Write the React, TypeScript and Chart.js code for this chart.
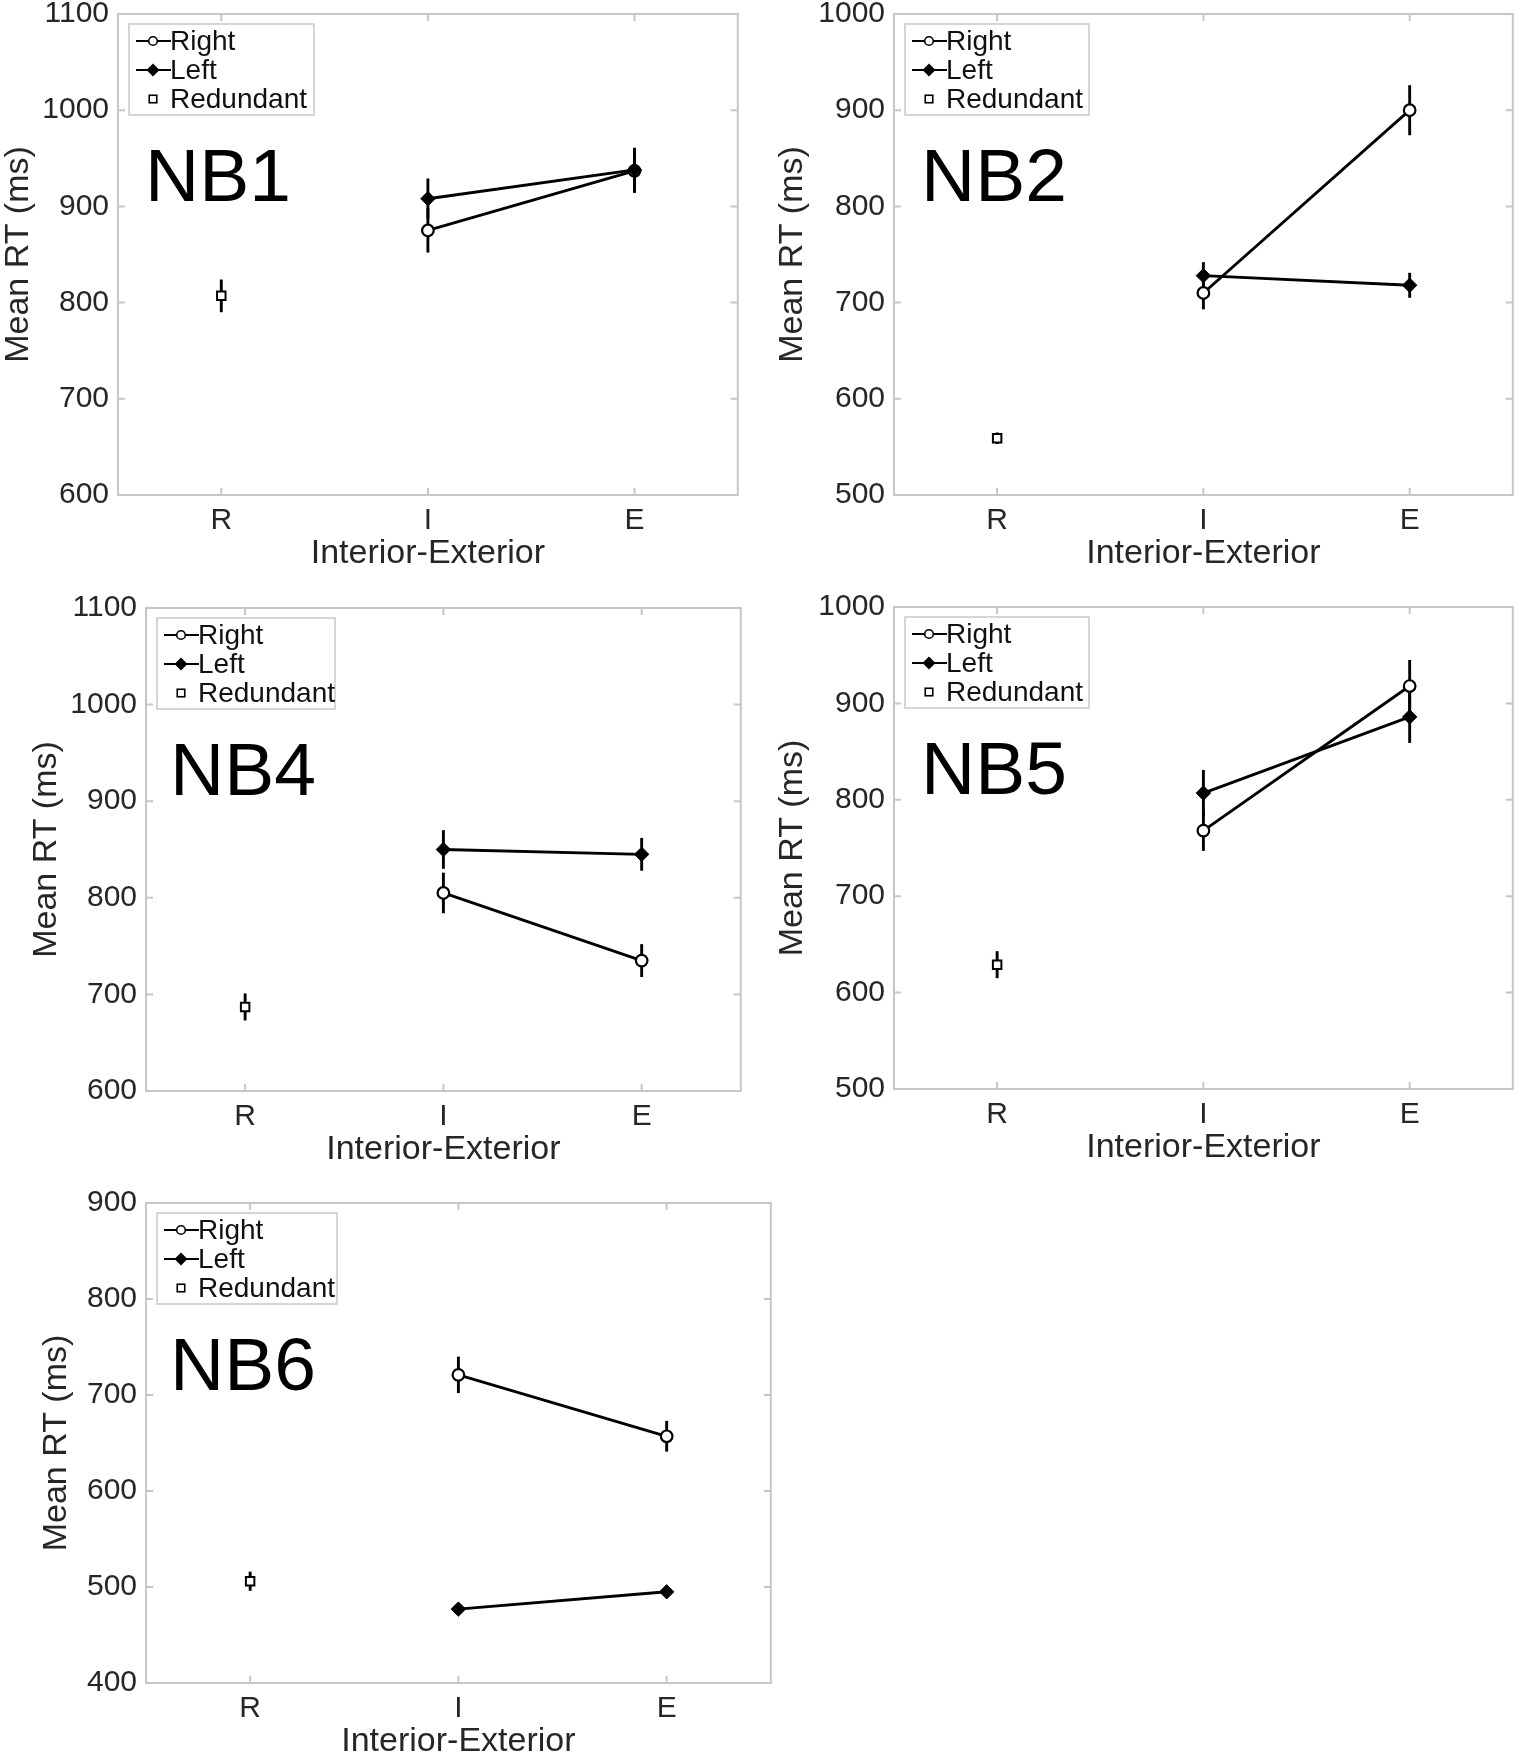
import React, { useEffect, useRef } from 'react';
import { Chart, registerables } from 'chart.js';

Chart.register(...registerables);

// ---------------- data ----------------
const categories = ['R', 'I', 'E'];
const panelNames = ['NB1', 'NB2', 'NB4', 'NB5', 'NB6'];
const seriesNames = ['Right', 'Left', 'Redundant'];
const xAxisTitle = 'Interior-Exterior';
const yAxisTitle = 'Mean RT (ms)';

const yMins = [600, 500, 600, 500, 400];
const yMaxs = [1100, 1000, 1100, 1000, 900];
const yStep = 100;

// Right (open circle) means at I and E, per panel
const rightMeans = [
  [null, 875, 937],
  [null, 710, 900],
  [null, 805, 735],
  [null, 768, 918],
  [null, 721, 657],
];
const rightErrors = [
  [0, 23, 23],
  [0, 17, 26],
  [0, 21, 17],
  [0, 21, 27],
  [0, 19, 16],
];
// Left (filled diamond)
const leftMeans = [
  [null, 908, 938],
  [null, 728, 718],
  [null, 850, 845],
  [null, 807, 886],
  [null, 477, 495],
];
const leftErrors = [
  [0, 21, 23],
  [0, 14, 13],
  [0, 20, 17],
  [0, 24, 27],
  [0, 4, 5],
];
// Redundant (open square) at R
const redundantMeans = [807, 559, 687, 629, 506];
const redundantErrors = [17, 6, 14, 14, 10];

// ---------------- layout ----------------
const panelBoxes = [
  { l: 118, t: 14, r: 742, b: 495 },
  { l: 894, t: 14, r: 1517, b: 495 },
  { l: 146, t: 608, r: 745, b: 1091 },
  { l: 894, t: 607, r: 1517, b: 1089 },
  { l: 146, t: 1203, r: 775, b: 1683 },
];
const yTitleOffsets = [99, 101, 99, 101, 89];
const nbLabelDx = [27, 27, 24, 27, 24];
const legendWidths = [185, 184, 178, 184, 180];

const PAD_L = 117;
const PAD_T = 34;
const PAD_R = 4;
const PAD_B = 80;

const FONT_FAMILY = "'Liberation Sans', Arial, Helvetica, sans-serif";
const TEXT_COLOR = '#262626';
const FRAME_COLOR = '#c6c6c6';
const LINE_W = 2.9;

Chart.defaults.font.family = FONT_FAMILY;

function drawCircle(ctx: CanvasRenderingContext2D, x: number, y: number, r: number, lw: number) {
  ctx.beginPath();
  ctx.arc(x, y, r, 0, Math.PI * 2);
  ctx.fillStyle = '#fff';
  ctx.fill();
  ctx.lineWidth = lw;
  ctx.strokeStyle = '#000';
  ctx.stroke();
}
function drawDiamond(ctx: CanvasRenderingContext2D, x: number, y: number, r: number) {
  ctx.beginPath();
  ctx.moveTo(x, y - r);
  ctx.lineTo(x + r, y);
  ctx.lineTo(x, y + r);
  ctx.lineTo(x - r, y);
  ctx.closePath();
  ctx.fillStyle = '#000';
  ctx.fill();
}
function drawSquare(ctx: CanvasRenderingContext2D, x: number, y: number, s: number, lw: number) {
  ctx.fillStyle = '#fff';
  ctx.fillRect(x - s / 2, y - s / 2, s, s);
  ctx.lineWidth = lw;
  ctx.strokeStyle = '#000';
  ctx.strokeRect(x - s / 2, y - s / 2, s, s);
}

function makePanelPlugin(idx: number) {
  return {
    id: 'panelDecor' + idx,
    beforeDatasetsDraw(chart: any) {
      const ctx: CanvasRenderingContext2D = chart.ctx;
      const xs = chart.scales.x;
      const ys = chart.scales.y;
      const errs = [rightErrors[idx], leftErrors[idx], [redundantErrors[idx], 0, 0]];
      ctx.save();
      ctx.strokeStyle = '#000';
      ctx.lineWidth = LINE_W;
      ctx.lineCap = 'butt';
      chart.data.datasets.forEach((ds: any, di: number) => {
        ds.data.forEach((v: number | null, i: number) => {
          if (v === null || v === undefined) return;
          const e = errs[di][i];
          if (!e) return;
          const x = xs.getPixelForValue(i);
          ctx.beginPath();
          ctx.moveTo(x, ys.getPixelForValue(v - e));
          ctx.lineTo(x, ys.getPixelForValue(v + e));
          ctx.stroke();
        });
      });
      ctx.restore();
    },
    afterDraw(chart: any) {
      const ctx: CanvasRenderingContext2D = chart.ctx;
      const ca = chart.chartArea;
      const xs = chart.scales.x;
      const ys = chart.scales.y;
      ctx.save();
      // frame
      ctx.strokeStyle = FRAME_COLOR;
      ctx.lineWidth = 2;
      ctx.strokeRect(ca.left, ca.top, ca.right - ca.left, ca.bottom - ca.top);
      // inside ticks
      const tl = 7;
      ctx.beginPath();
      ys.ticks.forEach((t: any) => {
        const y = ys.getPixelForValue(t.value);
        ctx.moveTo(ca.left, y);
        ctx.lineTo(ca.left + tl, y);
        ctx.moveTo(ca.right, y);
        ctx.lineTo(ca.right - tl, y);
      });
      categories.forEach((_c, i) => {
        const x = xs.getPixelForValue(i);
        ctx.moveTo(x, ca.bottom);
        ctx.lineTo(x, ca.bottom - tl);
        ctx.moveTo(x, ca.top);
        ctx.lineTo(x, ca.top + tl);
      });
      ctx.stroke();

      // legend
      const bx = ca.left + 11;
      const by = ca.top + 10;
      const bw = legendWidths[idx];
      const bh = 91;
      ctx.fillStyle = '#fff';
      ctx.fillRect(bx, by, bw, bh);
      ctx.strokeStyle = '#c8c8c8';
      ctx.lineWidth = 1.5;
      ctx.strokeRect(bx, by, bw, bh);
      const rows = [by + 17, by + 46, by + 75];
      const mx = bx + 24;
      ctx.strokeStyle = '#000';
      ctx.lineWidth = 2.2;
      for (let r = 0; r < 2; r++) {
        ctx.beginPath();
        ctx.moveTo(bx + 7, rows[r]);
        ctx.lineTo(bx + 42, rows[r]);
        ctx.stroke();
      }
      drawCircle(ctx, mx, rows[0], 4.3, 1.6);
      drawDiamond(ctx, mx, rows[1], 6.5);
      drawSquare(ctx, mx, rows[2], 7.5, 1.6);
      ctx.fillStyle = '#111';
      ctx.font = '28px ' + FONT_FAMILY;
      ctx.textAlign = 'left';
      ctx.textBaseline = 'middle';
      seriesNames.forEach((n, r) => {
        ctx.fillText(n, bx + 41, rows[r] + 1);
      });

      // panel name
      ctx.fillStyle = '#000';
      ctx.font = '75px ' + FONT_FAMILY;
      ctx.textBaseline = 'alphabetic';
      ctx.fillText(panelNames[idx], ca.left + nbLabelDx[idx], ca.top + 187);
      ctx.restore();
    },
  };
}

function Panel({ idx }: { idx: number }) {
  const ref = useRef<HTMLCanvasElement>(null);
  const box = panelBoxes[idx];
  const W = box.r - box.l + PAD_L + PAD_R;
  const H = box.b - box.t + PAD_T + PAD_B;

  useEffect(() => {
    if (!ref.current) return;
    const redundantData = categories.map((_c, i) => (i === 0 ? redundantMeans[idx] : null));
    const chart = new Chart(ref.current, {
      type: 'line',
      data: {
        labels: categories,
        datasets: [
          {
            label: seriesNames[0],
            data: rightMeans[idx],
            borderColor: '#000',
            borderWidth: LINE_W,
            pointStyle: 'circle',
            pointRadius: 5.8,
            pointBorderWidth: 2.2,
            pointBackgroundColor: '#fff',
            pointBorderColor: '#000',
            order: 2,
          },
          {
            label: seriesNames[1],
            data: leftMeans[idx],
            borderColor: '#000',
            borderWidth: LINE_W,
            pointStyle: 'rectRot',
            pointRadius: 7.2,
            pointBorderWidth: 1,
            pointBackgroundColor: '#000',
            pointBorderColor: '#000',
            order: 1,
          },
          {
            label: seriesNames[2],
            data: redundantData,
            showLine: false,
            borderColor: '#000',
            pointStyle: 'rect',
            pointRadius: 6,
            pointBorderWidth: 2,
            pointBackgroundColor: '#fff',
            pointBorderColor: '#000',
            order: 0,
          },
        ] as any,
      },
      options: {
        animation: false,
        responsive: false,
        devicePixelRatio: 1,
        layout: { padding: { top: PAD_T, right: PAD_R, left: 0, bottom: 0 } },
        plugins: { legend: { display: false }, tooltip: { enabled: false } },
        scales: {
          x: {
            type: 'category',
            offset: true,
            grid: { display: false, drawTicks: false },
            border: { display: false },
            ticks: { font: { size: 30 }, color: TEXT_COLOR, padding: 8 },
            title: {
              display: true,
              text: xAxisTitle,
              color: TEXT_COLOR,
              font: { size: 34, lineHeight: 1 },
              padding: { top: 0, bottom: 4 },
            },
            afterFit: (s: any) => {
              s.height = PAD_B;
              s.paddingLeft = 0;
              s.paddingRight = 0;
              s.paddingTop = 0;
              s.paddingBottom = 0;
            },
          },
          y: {
            type: 'linear',
            min: yMins[idx],
            max: yMaxs[idx],
            grid: { display: false, drawTicks: false },
            border: { display: false },
            ticks: {
              stepSize: yStep,
              font: { size: 30 },
              color: TEXT_COLOR,
              padding: 9,
              callback: (v: any) => String(v),
            },
            title: {
              display: true,
              text: yAxisTitle,
              color: TEXT_COLOR,
              font: { size: 34, lineHeight: 1 },
              padding: { top: PAD_L - yTitleOffsets[idx] - 17, bottom: 0 },
            },
            afterFit: (s: any) => {
              s.width = PAD_L;
              s.paddingLeft = 0;
              s.paddingRight = 0;
              s.paddingTop = 0;
              s.paddingBottom = 0;
            },
          },
        },
      } as any,
      plugins: [makePanelPlugin(idx)],
    });
    return () => chart.destroy();
  }, [idx]);

  return (
    <canvas
      ref={ref}
      width={W}
      height={H}
      style={{ position: 'absolute', left: box.l - PAD_L, top: box.t - PAD_T, width: W, height: H }}
    />
  );
}

export default function App() {
  return (
    <div
      style={{
        position: 'absolute',
        left: 0,
        top: 0,
        width: 1521,
        height: 1756,
        overflow: 'hidden',
        background: '#fff',
      }}
    >
      {panelNames.map((_n, i) => (
        <Panel key={i} idx={i} />
      ))}
    </div>
  );
}
